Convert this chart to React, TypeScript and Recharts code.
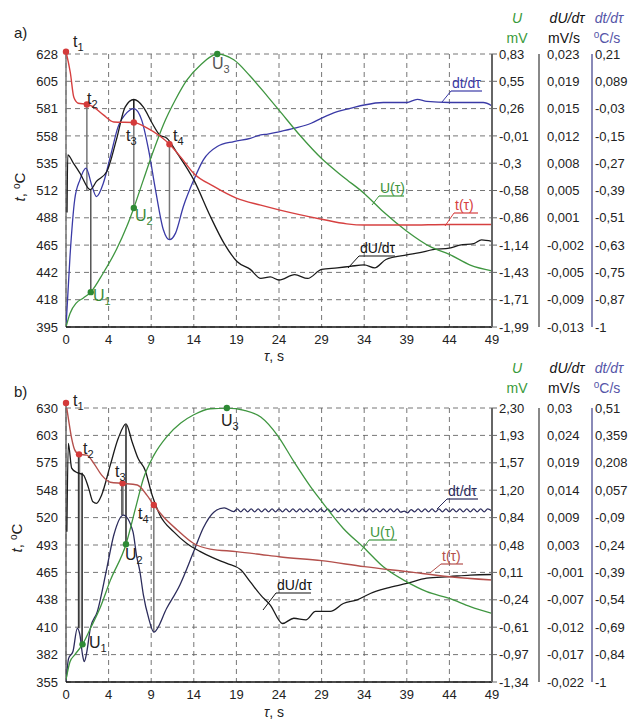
import { LineChart, Line, XAxis, YAxis, CartesianGrid, ReferenceLine, ReferenceDot } from "recharts";

type Pt = [number, number];

const FONT = "'Liberation Sans', Arial, sans-serif";

// time axis, s (tick labels are truncated: 4.9 -> "4")
const xTicks = [0, 4.9, 9.8, 14.7, 19.6, 24.5, 29.4, 34.3, 39.2, 44.1, 49];

// ---------- panel a) ----------
const tDomainA: Pt = [395, 628];
const uDomainA: Pt = [-1.99, 0.83];
const duDomainA: Pt = [-0.013, 0.023];
const dtDomainA: Pt = [-1, 0.21];
const tLabelsA = ["628", "605", "581", "558", "535", "512", "488", "465", "442", "418", "395"];
const uLabelsA = ["0,83", "0,55", "0,26", "-0,01", "-0,3", "-0,58", "-0,86", "-1,14", "-1,43", "-1,71", "-1,99"];
const duLabelsA = ["0,023", "0,019", "0,015", "0,012", "0,008", "0,005", "0,001", "-0,002", "-0,005", "-0,009", "-0,013"];
const dtLabelsA = ["0,21", "0,089", "-0,03", "-0,15", "-0,27", "-0,39", "-0,51", "-0,63", "-0,75", "-0,87", "-1"];

// t(τ), °C
const tempA: Pt[] = [
  [0, 630], [0.5, 612], [0.9, 591], [1.4, 586], [2.4, 585], [3.1, 583], [4.3, 576], [5.5, 570],
  [7.8, 569.5], [9.3, 565], [10.8, 558], [11.9, 551], [13.2, 540], [14.7, 526], [17, 515],
  [19.6, 505], [22.4, 499], [24.5, 495], [29.4, 487], [32.3, 483], [34.3, 482], [39.2, 482],
  [44.1, 482.5], [49, 482.5],
];
// U(τ), mV
const voltA: Pt[] = [
  [0, -1.99], [0.46, -1.85], [1.2, -1.74], [2, -1.69], [2.85, -1.63], [4.3, -1.43], [5.8, -1.19],
  [7, -0.95], [7.8, -0.76], [8.9, -0.47], [10.1, -0.16], [11.2, 0.1], [12.6, 0.36], [13.9, 0.56],
  [15.5, 0.72], [17.4, 0.83], [19.3, 0.77], [21.2, 0.6], [23.2, 0.39], [24.5, 0.25], [27, -0.02],
  [29.4, -0.25], [31.9, -0.44], [34.3, -0.61], [36.5, -0.8], [39.2, -1.0], [41.9, -1.16],
  [44.1, -1.24], [46.5, -1.35], [49, -1.41],
];
// dU/dτ, mV/s
const dUA: Pt[] = [
  [0.12, 0.0021], [0.2, 0.0097], [0.85, 0.0086], [1.6, 0.0073], [2.8, 0.0051], [3.5, 0.0062],
  [4.7, 0.0075], [5.8, 0.0117], [6.8, 0.016], [7.8, 0.017], [8.9, 0.016], [9.9, 0.0139],
  [10.8, 0.0123], [11.6, 0.0119], [12.8, 0.0099], [14.7, 0.0064], [16.6, 0.0016], [18.2, -0.002],
  [19.7, -0.0044], [21.2, -0.0054], [22.4, -0.0066], [23.5, -0.0064], [24.5, -0.0068],
  [26.3, -0.0061], [27.8, -0.0066], [29.4, -0.0054], [31.2, -0.0052], [32.7, -0.005],
  [34.3, -0.0048], [35.5, -0.0052], [36.8, -0.0041], [39.2, -0.0035], [40.7, -0.0032],
  [42.2, -0.0028], [44.1, -0.0026], [45.3, -0.0022], [46.9, -0.002], [47.8, -0.0015], [49, -0.0017],
];
// dt/dτ, °C/s
const dTA: Pt[] = [
  [0, -1], [0.46, -0.687], [1.0, -0.436], [1.6, -0.348], [2.3, -0.296], [3.0, -0.377], [3.5, -0.422],
  [4.3, -0.362], [5.1, -0.245], [6.0, -0.112], [7.0, -0.05], [7.8, -0.032], [8.7, -0.082],
  [9.5, -0.215], [10.3, -0.393], [11.2, -0.569], [11.9, -0.613], [12.6, -0.584], [13.5, -0.466],
  [14.7, -0.348], [15.8, -0.259], [17.4, -0.2], [19.3, -0.178], [21.2, -0.164], [22.4, -0.148],
  [23.2, -0.145], [24.5, -0.135], [26.3, -0.119], [28.2, -0.097], [29.4, -0.074], [31.2, -0.045],
  [32.7, -0.031], [34.3, -0.016], [36.5, -0.005], [39.2, -0.005], [40.4, 0.009], [41.5, 0.0],
  [44.1, -0.005], [48, -0.005], [49, -0.02],
];
const tPointsA: Pt[] = [[0, 630], [2.4, 585], [7.8, 569.5], [11.9, 551]];
const uPointsA: Pt[] = [[2.85, -1.63], [7.8, -0.76], [17.4, 0.83]];
// vertical connectors in °C units: [x, from, to]
const linksA: [number, number, number, string][] = [
  [0, 630, 395, "#777"], [2.4, 585, 512, "#777"], [2.85, 512, 424.6, "#555"],
  [7.8, 589, 569.5, "#111"], [7.8, 569.5, 496.4, "#777"], [11.9, 551, 469.6, "#777"],
];

// ---------- panel b) ----------
const tDomainB: Pt = [355, 630];
const uDomainB: Pt = [-1.34, 2.3];
const duDomainB: Pt = [-0.022, 0.03];
const dtDomainB: Pt = [-1, 0.51];
const tLabelsB = ["630", "603", "575", "548", "520", "493", "465", "438", "410", "382", "355"];
const uLabelsB = ["2,30", "1,93", "1,57", "1,20", "0,84", "0,48", "0,11", "-0,24", "-0,61", "-0,97", "-1,34"];
const duLabelsB = ["0,03", "0,024", "0,019", "0,014", "0,009", "0,003", "-0,001", "-0,007", "-0,012", "-0,017", "-0,022"];
const dtLabelsB = ["0,51", "0,359", "0,208", "0,057", "-0,09", "-0,24", "-0,39", "-0,54", "-0,69", "-0,84", "-1"];

const tempB: Pt[] = [
  [0, 635], [0.27, 619.6], [0.65, 599.5], [1.0, 588], [1.5, 583.5], [2.4, 582.7], [3.2, 574.5],
  [4.1, 562.6], [5.1, 555.5], [6.5, 554.4], [8.2, 552.7], [9.3, 542.6], [10.1, 532.7], [11.2, 520.8],
  [12.8, 507.6], [14.7, 494], [16.6, 488.4], [19.6, 485.9], [22.4, 483], [24.5, 480.7], [29.4, 476.8],
  [34.3, 470.8], [39.2, 465.8], [44.1, 460.6], [49, 457.3],
];
const voltB: Pt[] = [
  [0, -1.31], [0.46, -1.07], [1.0, -0.98], [1.9, -0.84], [2.8, -0.63], [3.9, -0.36], [5.1, 0.01],
  [6.9, 0.49], [8.0, 0.97], [8.9, 1.36], [10.1, 1.67], [11.6, 1.92], [13.2, 2.1], [14.7, 2.21],
  [16.6, 2.29], [18.5, 2.3], [20.5, 2.27], [22.4, 2.18], [24.3, 1.94], [26.2, 1.59], [28.1, 1.26],
  [29.4, 1.06], [31.9, 0.7], [34.3, 0.44], [36.5, 0.19], [39.2, -0.01], [41.5, -0.14], [44.1, -0.23],
  [46.5, -0.34], [49, -0.43],
];
const dUB: Pt[] = [
  [0.1, 0.0065], [0.27, 0.0233], [0.65, 0.0186], [1.2, 0.0178], [2.0, 0.0173], [2.6, 0.0148],
  [3.1, 0.0122], [3.5, 0.0119], [4.1, 0.0135], [5.1, 0.0192], [6.0, 0.0242], [6.9, 0.027],
  [7.6, 0.0236], [8.3, 0.0204], [9.1, 0.0182], [9.9, 0.0135], [10.8, 0.0097], [12.4, 0.0065],
  [13.9, 0.0043], [15.4, 0.0028], [17.0, 0.0015], [18.5, 0.0005], [20.1, -0.0007], [21.2, -0.003],
  [22.4, -0.0055], [23.5, -0.0074], [24.9, -0.0109], [26.2, -0.0099], [27.6, -0.0102],
  [28.7, -0.0086], [30.4, -0.0086], [31.9, -0.0071], [33.5, -0.0064], [35.0, -0.0052],
  [36.9, -0.0042], [39.2, -0.0033], [41.5, -0.0023], [44.1, -0.002], [46.5, -0.0017], [49, -0.0016],
];
const dTB: Pt[] = [
  [0, -1], [0.3, -0.87], [0.8, -0.832], [1.3, -0.704], [1.6, -0.74], [1.9, -0.85], [2.1, -0.888],
  [2.4, -0.832], [2.8, -0.704], [3.6, -0.612], [4.7, -0.372], [5.5, -0.19], [6.6, -0.08],
  [7.7, -0.171], [8.1, -0.299], [8.5, -0.391], [8.9, -0.52], [9.5, -0.647], [10.1, -0.725],
  [11.6, -0.592], [13.1, -0.465], [14.7, -0.28], [15.8, -0.15], [17.0, -0.064], [18.2, -0.04],
  [19.3, -0.061],
  [19.7, -0.046], [20.1, -0.062], [20.5, -0.046], [20.9, -0.062], [21.3, -0.046], [21.7, -0.062],
  [22.1, -0.046], [22.5, -0.062], [22.9, -0.046], [23.3, -0.062], [23.7, -0.046], [24.1, -0.062],
  [24.5, -0.046], [24.9, -0.062], [25.3, -0.046], [25.7, -0.062], [26.1, -0.046], [26.5, -0.062],
  [26.9, -0.046], [27.3, -0.062], [27.7, -0.046], [28.1, -0.062], [28.5, -0.046], [28.9, -0.062],
  [29.3, -0.046], [29.7, -0.062], [30.1, -0.046], [30.5, -0.062], [30.9, -0.046], [31.3, -0.062],
  [31.7, -0.046], [32.1, -0.062], [32.5, -0.046], [32.9, -0.062], [33.3, -0.046], [33.7, -0.062],
  [34.1, -0.046], [34.5, -0.062], [34.9, -0.046], [35.3, -0.062], [35.7, -0.046], [36.1, -0.062],
  [36.5, -0.046], [36.9, -0.062], [37.3, -0.046], [37.7, -0.062], [38.1, -0.046], [38.5, -0.064],
  [38.9, -0.058], [39.3, -0.068], [39.7, -0.05], [40.1, -0.062], [40.5, -0.046], [40.9, -0.062],
  [41.3, -0.046], [41.7, -0.062], [42.1, -0.046], [42.5, -0.062], [42.9, -0.046], [43.3, -0.062],
  [43.7, -0.046], [44.1, -0.062], [44.5, -0.046], [44.9, -0.062], [45.3, -0.046], [45.7, -0.062],
  [46.1, -0.046], [46.5, -0.062], [46.9, -0.046], [47.3, -0.062], [47.7, -0.046], [48.1, -0.062],
  [48.5, -0.046], [49, -0.058],
];
const tPointsB: Pt[] = [[0, 635], [1.5, 583.5], [6.5, 554.4], [10.1, 532.7]];
const uPointsB: Pt[] = [[1.9, -0.84], [6.9, 0.49], [18.5, 2.3]];
const linksB: [number, number, number, string][] = [
  [0, 635, 355, "#666"], [1.45, 583.5, 409, "#222"], [1.55, 583.5, 409, "#777"],
  [1.85, 565, 392.7, "#222"], [6.45, 554.4, 522.5, "#222"], [6.55, 554.4, 522.5, "#777"],
  [6.9, 613, 493, "#222"], [10.1, 532.7, 405, "#777"],
];

const rows = (pts: Pt[]) => pts.map(([x, y]) => ({ x, y }));
const evenTicks = ([lo, hi]: Pt) => Array.from({ length: 11 }, (_, i) => lo + ((hi - lo) * i) / 10);
const labelFor = ([lo, hi]: Pt, labels: string[]) => (v: number) =>
  labels[10 - Math.round(((v - lo) / (hi - lo)) * 10)];

const tickStyle = { fontSize: 13, fill: "#222", fontFamily: FONT };

type PanelProps = {
  height: number;
  top: number;
  bottom: number;
  tDomain: Pt; uDomain: Pt; duDomain: Pt; dtDomain: Pt;
  tLabels: string[]; uLabels: string[]; duLabels: string[]; dtLabels: string[];
  temp: Pt[]; volt: Pt[]; dU: Pt[]; dT: Pt[];
  tPoints: Pt[]; uPoints: Pt[];
  links: [number, number, number, string][];
  tColor: string; dtColor: string;
};

// right axis ids sort r1 < r2 < r3, r1 sits next to the plot
function Panel(p: PanelProps) {
  return (
    <LineChart width={633} height={p.height} margin={{ top: p.top, right: 0, bottom: 0, left: 0 }}>
      <CartesianGrid yAxisId="t" strokeDasharray="5 4" stroke="#666" strokeWidth={0.9} />
      <XAxis
        dataKey="x" type="number" domain={[0, 49]} ticks={xTicks} allowDataOverflow
        tickFormatter={(v: number) => String(Math.floor(v + 1e-6))}
        height={p.bottom} tickLine={false} tick={tickStyle}
        axisLine={{ stroke: "#111", strokeWidth: 1.5 }}
      />
      <YAxis
        yAxisId="t" orientation="left" width={66} type="number" domain={p.tDomain} allowDataOverflow
        ticks={evenTicks(p.tDomain)} interval={0} tickFormatter={labelFor(p.tDomain, p.tLabels)}
        axisLine={false} tickLine={false} tick={tickStyle}
      />
      <YAxis
        yAxisId="r1" orientation="right" width={47} type="number" domain={p.uDomain} allowDataOverflow
        ticks={evenTicks(p.uDomain)} interval={0} tickFormatter={labelFor(p.uDomain, p.uLabels)}
        axisLine={{ stroke: "#666", strokeWidth: 2 }} tickLine={{ stroke: "#666" }} tickSize={5} tick={tickStyle}
      />
      <YAxis
        yAxisId="r2" orientation="right" width={53} type="number" domain={p.duDomain} allowDataOverflow
        ticks={evenTicks(p.duDomain)} interval={0} tickFormatter={labelFor(p.duDomain, p.duLabels)}
        axisLine={{ stroke: "#888", strokeWidth: 2 }} tickLine={false} tickSize={6} tick={tickStyle}
      />
      <YAxis
        yAxisId="r3" orientation="right" width={41} type="number" domain={p.dtDomain} allowDataOverflow
        ticks={evenTicks(p.dtDomain)} interval={0} tickFormatter={labelFor(p.dtDomain, p.dtLabels)}
        axisLine={{ stroke: "#8a8ab8", strokeWidth: 2 }} tickLine={false} tickSize={0} tickMargin={3} tick={tickStyle}
      />
      {p.links.map(([x, y1, y2, c], i) => (
        <ReferenceLine
          key={`l${i}`} yAxisId="t" ifOverflow="visible" stroke={c} strokeWidth={1.5}
          segment={[{ x, y: y1 }, { x, y: y2 }]}
        />
      ))}
      <Line yAxisId="r3" data={rows(p.dT)} dataKey="y" type="monotone" stroke={p.dtColor} strokeWidth={1.3} dot={false} isAnimationActive={false} />
      <Line yAxisId="r2" data={rows(p.dU)} dataKey="y" type="monotone" stroke="#1a1a1a" strokeWidth={1.3} dot={false} isAnimationActive={false} />
      <Line yAxisId="r1" data={rows(p.volt)} dataKey="y" type="monotone" stroke="#3f9640" strokeWidth={1.3} dot={false} isAnimationActive={false} />
      <Line yAxisId="t" data={rows(p.temp)} dataKey="y" type="monotone" stroke={p.tColor} strokeWidth={1.4} dot={false} isAnimationActive={false} />
      {p.tPoints.map(([x, y], i) => (
        <ReferenceDot key={`t${i}`} yAxisId="t" x={x} y={y} r={3.2} fill="#d43a3a" stroke="none" ifOverflow="visible" />
      ))}
      {p.uPoints.map(([x, y], i) => (
        <ReferenceDot key={`u${i}`} yAxisId="r1" x={x} y={y} r={3.2} fill="#2e8a35" stroke="none" ifOverflow="visible" />
      ))}
    </LineChart>
  );
}

function Sub({ x, y, base, sub, color = "#222" }: { x: number; y: number; base: string; sub: string; color?: string }) {
  return (
    <text x={x} y={y} fontSize={16} fill={color} fontFamily={FONT}>
      {base}
      <tspan fontSize={11} dy={4}>{sub}</tspan>
    </text>
  );
}

function Tag({ x, y, text, color, w, to }: { x: number; y: number; text: string; color: string; w: number; to: [number, number] }) {
  return (
    <g>
      <text x={x + 1} y={y} fontSize={14} fill={color} fontFamily={FONT}>{text}</text>
      <line x1={x} y1={y + 3} x2={x + w} y2={y + 3} stroke={color} strokeWidth={1.2} />
      <line x1={x} y1={y + 3} x2={to[0]} y2={to[1]} stroke={color} strokeWidth={1} />
    </g>
  );
}

function Headers({ y }: { y: number }) {
  return (
    <g fontFamily={FONT} fontSize={14}>
      <text x={517} y={y} textAnchor="middle" fill="#3a9a3a" fontStyle="italic">U</text>
      <text x={517} y={y + 20} textAnchor="middle" fill="#3a9a3a">mV</text>
      <text x={567} y={y} textAnchor="middle" fill="#111" fontStyle="italic">dU/dτ</text>
      <text x={564} y={y + 20} textAnchor="middle" fill="#111">mV/s</text>
      <text x={609} y={y} textAnchor="middle" fill="#5555a8" fontStyle="italic">dt/dτ</text>
      <text x={607} y={y + 20} textAnchor="middle" fill="#5555a8">
        <tspan fontSize={10} dy={-5}>o</tspan>
        <tspan dy={5}>C/s</tspan>
      </text>
    </g>
  );
}

function YTitle({ cx, cy }: { cx: number; cy: number }) {
  return (
    <text transform={`translate(${cx},${cy}) rotate(-90)`} textAnchor="middle" fontSize={15} fill="#222" fontFamily={FONT}>
      <tspan fontStyle="italic">t</tspan>
      <tspan>, </tspan>
      <tspan fontSize={10} dy={-5}>o</tspan>
      <tspan dy={5}>C</tspan>
    </text>
  );
}

function XTitle({ y }: { y: number }) {
  return (
    <text x={274} y={y} textAnchor="middle" fontSize={14} fill="#222" fontFamily={FONT}>
      <tspan fontStyle="italic">τ</tspan>, s
    </text>
  );
}

export default function App() {
  return (
    <div style={{ position: "absolute", left: 0, top: 0, width: 633, height: 719, background: "#fff", fontFamily: FONT }}>
      <div style={{ position: "absolute", left: 0, top: 0 }}>
        <Panel
          height={355} top={54} bottom={28}
          tDomain={tDomainA} uDomain={uDomainA} duDomain={duDomainA} dtDomain={dtDomainA}
          tLabels={tLabelsA} uLabels={uLabelsA} duLabels={duLabelsA} dtLabels={dtLabelsA}
          temp={tempA} volt={voltA} dU={dUA} dT={dTA}
          tPoints={tPointsA} uPoints={uPointsA} links={linksA}
          tColor="#d64040" dtColor="#3a3aa6"
        />
      </div>
      <div style={{ position: "absolute", left: 0, top: 355 }}>
        <Panel
          height={364} top={53} bottom={37}
          tDomain={tDomainB} uDomain={uDomainB} duDomain={duDomainB} dtDomain={dtDomainB}
          tLabels={tLabelsB} uLabels={uLabelsB} duLabels={duLabelsB} dtLabels={dtLabelsB}
          temp={tempB} volt={voltB} dU={dUB} dT={dTB}
          tPoints={tPointsB} uPoints={uPointsB} links={linksB}
          tColor="#b4504c" dtColor="#2c2c5c"
        />
      </div>
      <svg width={633} height={719} style={{ position: "absolute", left: 0, top: 0, pointerEvents: "none" }}>
        {/* panel a */}
        <text x={14} y={38} fontSize={15} fill="#222" fontFamily={FONT}>a)</text>
        <YTitle cx={25} cy={187} />
        <XTitle y={361} />
        <Headers y={23} />
        <Sub x={73} y={47} base="t" sub="1" />
        <Sub x={87} y={104} base="t" sub="2" />
        <Sub x={126} y={141} base="t" sub="3" />
        <Sub x={173} y={141} base="t" sub="4" />
        <Sub x={93} y={301} base="U" sub="1" color="#3a8a3a" />
        <Sub x={135} y={221} base="U" sub="2" color="#3a8a3a" />
        <Sub x={212} y={69} base="U" sub="3" color="#555" />
        <Tag x={451} y={88} text="dt/dτ" color="#3a3aa6" w={31} to={[442, 102]} />
        <Tag x={379} y={193} text="U(τ)" color="#3f9640" w={25} to={[372, 205]} />
        <Tag x={454} y={210} text="t(τ)" color="#d64040" w={24} to={[445, 226]} />
        <Tag x={359} y={253} text="dU/dτ" color="#111" w={36} to={[348, 268]} />
        {/* panel b */}
        <text x={14} y={397} fontSize={15} fill="#222" fontFamily={FONT}>b)</text>
        <YTitle cx={22} cy={538} />
        <XTitle y={717} />
        <Headers y={373} />
        <Sub x={73} y={406} base="t" sub="1" />
        <Sub x={83} y={454} base="t" sub="2" />
        <Sub x={115} y={477} base="t" sub="3" />
        <Sub x={138} y={519} base="t" sub="4" />
        <Sub x={89} y={648} base="U" sub="1" />
        <Sub x={125} y={560} base="U" sub="2" />
        <Sub x={221} y={426} base="U" sub="3" />
        <Tag x={447} y={496} text="dt/dτ" color="#2c2c5c" w={31} to={[437, 509]} />
        <Tag x={369} y={537} text="U(τ)" color="#3f9640" w={28} to={[361, 551]} />
        <Tag x={441} y={561} text="t(τ)" color="#b4504c" w={22} to={[430, 573]} />
        <Tag x={276} y={590} text="dU/dτ" color="#111" w={35} to={[263, 610]} />
      </svg>
    </div>
  );
}
